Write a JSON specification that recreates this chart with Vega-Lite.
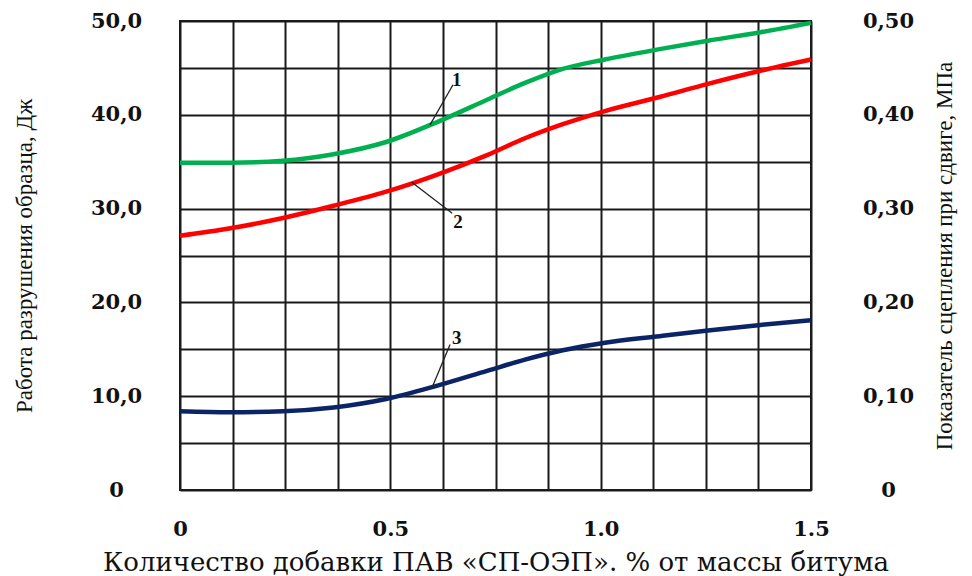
{
  "$schema": "https://vega.github.io/schema/vega-lite/v6.json",
  "width": 631,
  "height": 469,
  "autosize": "none",
  "padding": {"left": 180, "top": 21, "right": 161, "bottom": 86},
  "background": "white",
  "config": {
    "view": {"stroke": "#1a1a1a", "strokeWidth": 2},
    "axis": {"labelColor": "#111", "titleColor": "#111"}
  },
  "layer": [
    {
      "encoding": {
        "x": {
          "field": "x",
          "type": "quantitative",
          "scale": {"domain": [0, 1.5], "nice": false, "zero": false},
          "axis": {
            "values": [0, 0.125, 0.25, 0.375, 0.5, 0.625, 0.75, 0.875, 1, 1.125, 1.25, 1.375, 1.5],
            "labelExpr": "datum.value % 0.5 == 0 ? (datum.value == 0 ? '0' : format(datum.value, '.1f')) : ''",
            "grid": true,
            "gridColor": "#1a1a1a",
            "gridWidth": 2,
            "gridOpacity": 1,
            "ticks": false,
            "tickSize": 0,
            "domain": false,
            "labelFont": "DejaVu Serif",
            "labelFontWeight": "bold",
            "labelFontSize": 21,
            "labelPadding": 28,
            "labelFlush": false,
            "labelOverlap": false,
            "title": "Количество добавки ПАВ «СП-ОЭП». % от массы битума",
            "titleFont": "DejaVu Serif",
            "titleFontWeight": "normal",
            "titleFontSize": 26,
            "titlePadding": 10
          }
        },
        "y": {
          "field": "y",
          "type": "quantitative",
          "scale": {"domain": [0, 50], "nice": false},
          "axis": {
            "values": [0, 5, 10, 15, 20, 25, 30, 35, 40, 45, 50],
            "labelExpr": "datum.value % 10 == 0 ? (datum.value == 0 ? '0' : replace(format(datum.value, '.1f'), '.', ',')) : ''",
            "grid": true,
            "gridColor": "#1a1a1a",
            "gridWidth": 2,
            "gridOpacity": 1,
            "ticks": false,
            "tickSize": 0,
            "domain": false,
            "labelFont": "DejaVu Serif",
            "labelFontWeight": "bold",
            "labelFontSize": 21,
            "labelAlign": "center",
            "labelPadding": 64,
            "labelFlush": false,
            "labelOverlap": false,
            "title": "Работа разрушения образца, Дж",
            "titleFont": "Liberation Serif",
            "titleFontWeight": "normal",
            "titleFontSize": 23,
            "titlePadding": 54
          }
        }
      },
      "layer": [
        {
          "data": {
            "values": [
              {"curve": "1", "x": 0, "y": 34.9},
              {"curve": "1", "x": 0.12, "y": 34.9},
              {"curve": "1", "x": 0.245, "y": 35.1},
              {"curve": "1", "x": 0.365, "y": 35.8},
              {"curve": "1", "x": 0.49, "y": 37.1},
              {"curve": "1", "x": 0.61, "y": 39.2},
              {"curve": "1", "x": 0.73, "y": 41.6},
              {"curve": "1", "x": 0.82, "y": 43.4},
              {"curve": "1", "x": 0.91, "y": 44.9},
              {"curve": "1", "x": 1.01, "y": 45.9},
              {"curve": "1", "x": 1.14, "y": 47.0},
              {"curve": "1", "x": 1.255, "y": 47.9},
              {"curve": "1", "x": 1.38, "y": 48.8},
              {"curve": "1", "x": 1.5, "y": 49.8},
              {"curve": "2", "x": 0, "y": 27.1},
              {"curve": "2", "x": 0.12, "y": 27.9},
              {"curve": "2", "x": 0.245, "y": 29.0},
              {"curve": "2", "x": 0.365, "y": 30.3},
              {"curve": "2", "x": 0.49, "y": 31.8},
              {"curve": "2", "x": 0.61, "y": 33.6},
              {"curve": "2", "x": 0.73, "y": 35.7},
              {"curve": "2", "x": 0.82, "y": 37.5},
              {"curve": "2", "x": 0.91, "y": 39.0},
              {"curve": "2", "x": 1.01, "y": 40.4},
              {"curve": "2", "x": 1.14, "y": 41.9},
              {"curve": "2", "x": 1.255, "y": 43.3},
              {"curve": "2", "x": 1.38, "y": 44.7},
              {"curve": "2", "x": 1.5, "y": 45.9},
              {"curve": "3", "x": 0, "y": 8.4},
              {"curve": "3", "x": 0.12, "y": 8.3},
              {"curve": "3", "x": 0.245, "y": 8.4},
              {"curve": "3", "x": 0.365, "y": 8.8},
              {"curve": "3", "x": 0.49, "y": 9.7},
              {"curve": "3", "x": 0.61, "y": 11.1},
              {"curve": "3", "x": 0.73, "y": 12.7},
              {"curve": "3", "x": 0.82, "y": 13.9},
              {"curve": "3", "x": 0.91, "y": 14.9},
              {"curve": "3", "x": 1.01, "y": 15.7},
              {"curve": "3", "x": 1.14, "y": 16.4},
              {"curve": "3", "x": 1.255, "y": 17.0},
              {"curve": "3", "x": 1.38, "y": 17.6},
              {"curve": "3", "x": 1.5, "y": 18.1}
            ]
          },
          "mark": {"type": "line", "interpolate": "monotone", "strokeWidth": 4.5},
          "encoding": {
            "color": {
              "field": "curve",
              "type": "nominal",
              "scale": {"domain": ["1", "2", "3"], "range": ["#00B050", "#FF0000", "#0B2466"]},
              "legend": null
            }
          }
        },
        {
          "data": {
            "values": [
              {"curve": "1", "x": 0.594, "y": 38.9, "x2": 0.649, "y2": 43.2},
              {"curve": "2", "x": 0.551, "y": 32.8, "x2": 0.647, "y2": 29.5},
              {"curve": "3", "x": 0.599, "y": 10.9, "x2": 0.642, "y2": 15.5}
            ]
          },
          "mark": {"type": "rule", "color": "#222", "strokeWidth": 1.3},
          "encoding": {
            "x2": {"field": "x2"},
            "y2": {"field": "y2"}
          }
        },
        {
          "data": {
            "values": [
              {"label": "1", "x": 0.658, "y": 43.7},
              {"label": "2", "x": 0.661, "y": 28.6},
              {"label": "3", "x": 0.658, "y": 16.2}
            ]
          },
          "mark": {"type": "text", "font": "Liberation Serif", "fontWeight": "bold", "fontSize": 19, "color": "#111"},
          "encoding": {"text": {"field": "label"}}
        }
      ]
    },
    {
      "data": {"values": [{"s": 0}, {"s": 0.5}]},
      "mark": {"type": "point", "opacity": 0},
      "encoding": {
        "y": {
          "field": "s",
          "type": "quantitative",
          "scale": {"domain": [0, 0.5], "nice": false},
          "axis": {
            "orient": "right",
            "values": [0, 0.1, 0.2, 0.3, 0.4, 0.5],
            "labelExpr": "datum.value == 0 ? '0' : replace(format(datum.value, '.2f'), '.', ',')",
            "grid": false,
            "ticks": false,
            "tickSize": 0,
            "domain": false,
            "labelFont": "DejaVu Serif",
            "labelFontWeight": "bold",
            "labelFontSize": 21,
            "labelAlign": "center",
            "labelPadding": 77,
            "labelFlush": false,
            "labelOverlap": false,
            "title": "Показатель сцепления при сдвиге, МПа",
            "titleFont": "Liberation Serif",
            "titleFontWeight": "normal",
            "titleFontSize": 23,
            "titleAngle": 270,
            "titlePadding": 43
          }
        }
      }
    }
  ],
  "resolve": {"scale": {"y": "independent"}}
}
